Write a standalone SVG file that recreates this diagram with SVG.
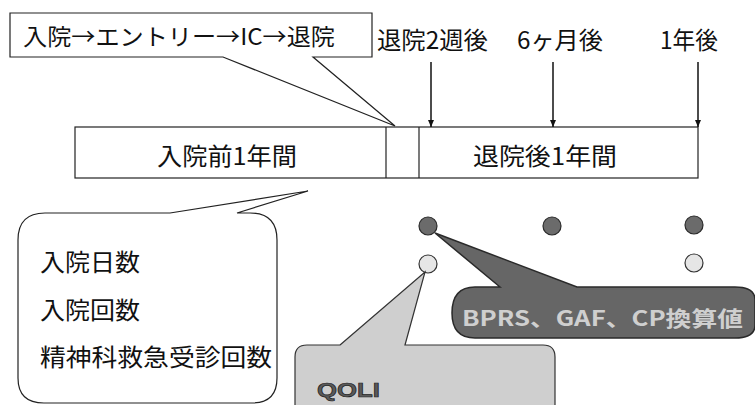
<svg xmlns="http://www.w3.org/2000/svg" width="755" height="405" viewBox="0 0 755 405">
<defs>
<style>
.t{font-family:"Noto Sans CJK JP","Liberation Sans",sans-serif;fill:#111;}
.box{fill:#fff;stroke:#222;stroke-width:1.2;}
.arr{stroke:#111;stroke-width:1.5;fill:none;}
.dot{fill:#6b6b6b;stroke:#2a2a2a;stroke-width:1.2;}
.ldot{fill:#e6e6e6;stroke:#333;stroke-width:1.2;}
</style>
<marker id="ah" markerWidth="8" markerHeight="8" refX="7" refY="4" orient="auto" markerUnits="userSpaceOnUse">
<path d="M0,1 L7,4 L0,7 Z" fill="#111"/>
</marker>
</defs>
<rect width="755" height="405" fill="#fff"/>

<g id="timeline">
<rect class="box" x="75" y="127" width="623" height="51"/>
<line x1="386" y1="127" x2="386" y2="178" stroke="#222" stroke-width="1.2"/>
<line x1="419" y1="127" x2="419" y2="178" stroke="#222" stroke-width="1.2"/>
<text class="t" x="157" y="165" font-size="24" textLength="140" lengthAdjust="spacingAndGlyphs">入院前1年間</text>
<text class="t" x="473" y="165" font-size="24" textLength="144" lengthAdjust="spacingAndGlyphs">退院後1年間</text>
</g>

<g id="flow-callout">
<path class="box" d="M10,13 H372 V57 H313 L395,126 L223,57 H10 Z"/>
<text class="t" x="23" y="45" font-size="23" textLength="312" lengthAdjust="spacingAndGlyphs">入院→エントリー→IC→退院</text>
</g>

<g id="labels">
<text class="t" x="377" y="49" font-size="24" textLength="111" lengthAdjust="spacingAndGlyphs">退院2週後</text>
<text class="t" x="517" y="49" font-size="24" textLength="86" lengthAdjust="spacingAndGlyphs">6ヶ月後</text>
<text class="t" x="660" y="49" font-size="24" textLength="58" lengthAdjust="spacingAndGlyphs">1年後</text>
</g>

<g id="connectors">
<line class="arr" x1="431" y1="62" x2="431" y2="127" marker-end="url(#ah)"/>
<line class="arr" x1="553" y1="62" x2="553" y2="127" marker-end="url(#ah)"/>
<line class="arr" x1="698" y1="62" x2="698" y2="127" marker-end="url(#ah)"/>
</g>

<g id="pre-callout">
<path class="box" d="M170,213 L308,191 L237,213 H250 Q277,213 277,240 V378 Q277,403 252,403 H44 Q18,403 18,378 V240 Q18,213 45,213 Z"/>
<text class="t" x="40" y="271" font-size="24" textLength="100" lengthAdjust="spacingAndGlyphs">入院日数</text>
<text class="t" x="40" y="319" font-size="24" textLength="100" lengthAdjust="spacingAndGlyphs">入院回数</text>
<text class="t" x="40" y="366" font-size="24" textLength="232" lengthAdjust="spacingAndGlyphs">精神科救急受診回数</text>
</g>

<g id="dots">
<circle class="dot" cx="428" cy="226" r="9"/>
<circle class="dot" cx="552" cy="226" r="9"/>
<circle class="dot" cx="694" cy="225" r="9"/>
<circle class="ldot" cx="428" cy="264" r="9"/>
<circle class="ldot" cx="694" cy="263" r="9"/>
</g>

<g id="qoli-callout">
<path d="M340,345 L425,272 L405,345 H543 Q555,345 555,357 V410 H295 V357 Q295,345 307,345 Z" fill="#cfcfcf" stroke="#333" stroke-width="1.2"/>
<text x="317" y="397" font-family="'Liberation Sans',sans-serif" font-size="21" font-weight="bold" fill="#5a5a5a" stroke="#222" stroke-width="0.7" textLength="63" lengthAdjust="spacingAndGlyphs">QOLI</text>
</g>

<g id="scale-callout">
<path d="M500,287 L435,233 L577,287 H735 Q755,287 755,300 V325 Q755,338 735,338 H475 Q452,338 452,313 Q452,287 475,287 Z" fill="#666" stroke="#2a2a2a" stroke-width="1.5"/>
<text x="462" y="326" font-family="'Noto Sans CJK JP','Liberation Sans',sans-serif" font-size="21" font-weight="bold" fill="#cfcfcf" textLength="281" lengthAdjust="spacingAndGlyphs">BPRS、GAF、CP換算値</text>
</g>
</svg>
